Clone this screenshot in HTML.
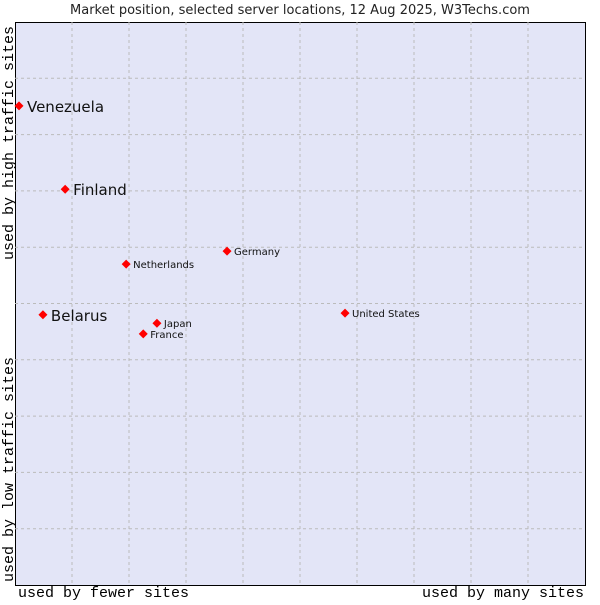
<!DOCTYPE html>
<html><head><meta charset="utf-8"><style>
body{margin:0;background:#fff;width:600px;height:600px;overflow:hidden}
svg text{font-family:"DejaVu Sans","Liberation Sans",sans-serif}
.mono{font-family:"Liberation Mono","DejaVu Sans Mono",monospace !important}
</style></head><body>
<svg width="600" height="600">
<text x="300" y="14" text-anchor="middle" font-size="13" fill="#222">Market position, selected server locations, 12 Aug 2025, W3Techs.com</text>
<rect x="15.5" y="22.5" width="570" height="563" fill="#e3e5f7" stroke="#000" stroke-width="1" shape-rendering="crispEdges"/>
<g id="grid"></g>
<g id="pts"></g>
<text class="mono" x="18" y="597" font-size="15" fill="#000">used by fewer sites</text>
<text class="mono" x="584" y="597" text-anchor="end" font-size="15" fill="#000">used by many sites</text>
<text class="mono" transform="translate(13,260) rotate(-90)" font-size="15" fill="#000">used by high traffic sites</text>
<text class="mono" transform="translate(13,582) rotate(-90)" font-size="15" fill="#000">used by low traffic sites</text>
</svg>
<script>
const names=["Venezuela","Finland","Netherlands","Germany","Belarus","Japan","France","United States"];
const xVals=[0.7,8.8,19.5,37.2,4.9,24.9,22.5,57.9];
const yVals=[85.1,70.3,57.0,59.3,48.0,46.5,44.6,48.3];
const big=[true,true,false,false,true,false,false,false];
const ns="http://www.w3.org/2000/svg";
const X=v=>15+v*5.7, Y=v=>585-v*5.63;
const g=document.getElementById('grid');
for(let i=1;i<10;i++){
 const a=document.createElementNS(ns,'line');
 
 
 a.setAttribute('x1',X(i*10));a.setAttribute('x2',X(i*10));a.setAttribute('y1',22);a.setAttribute('y2',585);
 a.setAttribute('stroke','#bbb');a.setAttribute('stroke-dasharray','3,3');g.appendChild(a);
 const b=document.createElementNS(ns,'line');
 
 
 b.setAttribute('y1',Y(i*10));b.setAttribute('y2',Y(i*10));b.setAttribute('x1',15);b.setAttribute('x2',585);
 b.setAttribute('stroke','#bbb');b.setAttribute('stroke-dasharray','3,3');g.appendChild(b);
}
const p=document.getElementById('pts');
names.forEach((n,i)=>{
 const x=X(xVals[i]),y=Y(yVals[i]);
 const d=document.createElementNS(ns,'path');
 
 
 const r=4.5;
 d.setAttribute('d',`M${x} ${y-r}L${x+r} ${y}L${x} ${y+r}L${x-r} ${y}Z`);
 d.setAttribute('fill','#f00');p.appendChild(d);
 const t=document.createElementNS(ns,'text');
 
 
 t.setAttribute('x',x+(big[i]?8:7));t.setAttribute('y',y+(big[i]?6:4));
 t.setAttribute('font-size',big[i]?15:10);t.setAttribute('fill','#111');
 t.textContent=n;p.appendChild(t);
});
</script>
</body></html>
